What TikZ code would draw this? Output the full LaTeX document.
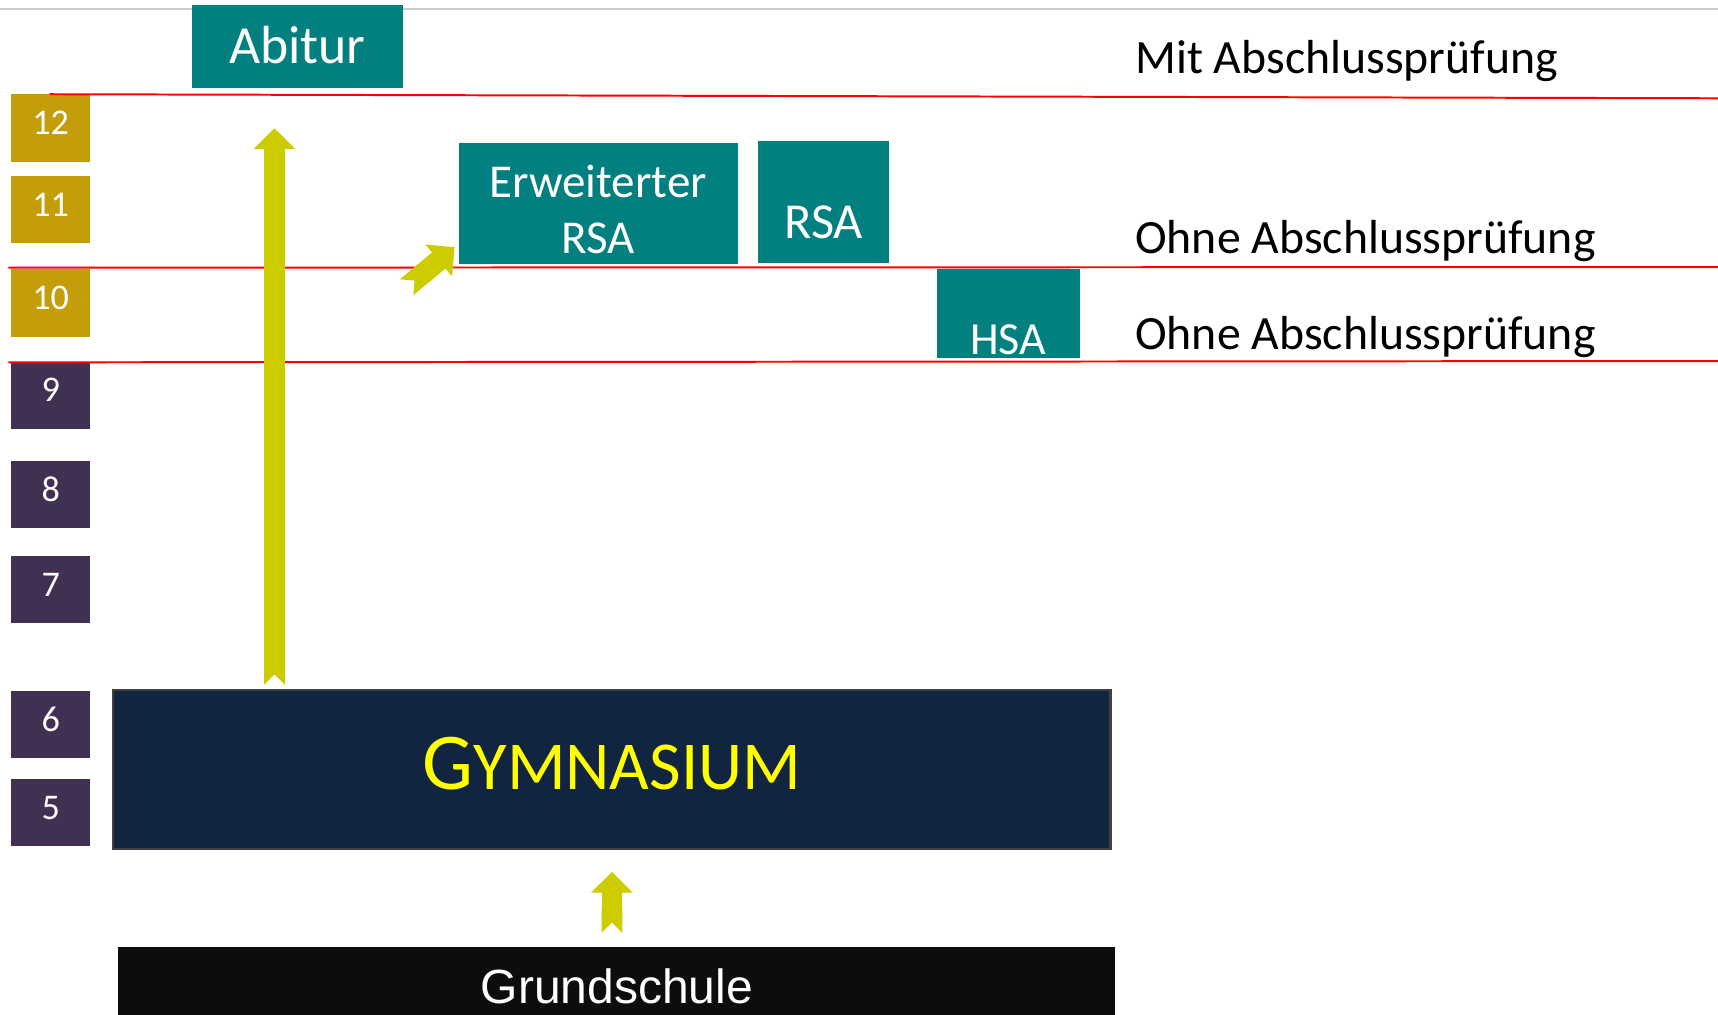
\documentclass[tikz,border=0pt]{standalone}
\usepackage{fontspec}
\setmainfont{Carlito}
\newfontfamily\grundfont{Liberation Sans}
\usetikzlibrary{arrows.meta}

\definecolor{schulteal}{RGB}{2,128,128}
\definecolor{oberstufe}{RGB}{196,158,10}
\definecolor{unterstufe}{RGB}{64,49,82}
\definecolor{gymblau}{RGB}{18,37,64}
\definecolor{pfeilgelb}{RGB}{204,204,0}
\definecolor{titelgelb}{RGB}{255,255,0}

\tikzset{
  abschluss/.style={fill=schulteal, text=white, inner sep=0pt, anchor=base},
  klasse/.style={fill=#1, text=white, inner sep=0pt, anchor=base, minimum width=36.25pt,
    text height=18.3pt, text depth=12.45pt, font=\fontsize{16.5}{18}\selectfont},
  grenze/.style={draw=red, line width=0.9pt},
  pfeil/.style={draw=pfeilgelb, line width=9.5pt,
    {Triangle Cap[reversed]}-{Triangle[width=18.5pt,length=9.5pt]}},
  hinweis/.style={anchor=base west, inner sep=0pt, font=\fontsize{21.8}{25}\selectfont},
}

\begin{document}
\begin{tikzpicture}[x=0.5pt,y=0.5pt,yscale=-1]
\useasboundingbox (0,0) rectangle (1568,925.5);

% Linie oben
\draw[gray!40, line width=1pt] (0,8.5) -- (1568,8.5);

% Klassenstufen
\foreach \nr/\ypos/\farbe in {12/122.6/oberstufe, 11/197.2/oberstufe, 10/282.4/oberstufe,
    9/366.6/unterstufe, 8/457.4/unterstufe, 7/544.1/unterstufe, 6/667.3/unterstufe, 5/747.6/unterstufe}
  \node[klasse=\farbe] (k\nr) at (46.25,\ypos) {\nr};

% Abschluesse
\node[abschluss, minimum width=96.5pt, text height=26.7pt, text depth=10.8pt,
  font=\fontsize{24.5}{28}\selectfont] (abitur) at (271.5,58.4) {Abitur};
\node[abschluss, minimum width=127.35pt, align=center, text height=50.4pt, text depth=5.1pt,
  font=\fontsize{21.5}{25.5}\selectfont] (erw) at (545.9,231) {Erweiterter\\RSA};
\node[abschluss, minimum width=59.5pt, text height=44.25pt, text depth=11.4pt,
  font=\fontsize{23}{26}\selectfont] (rsa) at (751.7,217.5) {RSA};
\node[abschluss, minimum width=65.4pt, text height=38.8pt, text depth=1.5pt,
  font=\fontsize{21}{24}\selectfont] (hsa) at (920.2,323.4) {HSA};

% Schulformen
\node[fill=gymblau, draw=black!75, line width=1pt, inner sep=0pt, anchor=base, minimum width=455pt,
  text height=45.6pt, text depth=26.95pt, text=titelgelb] (gym) at (558.5,721)
  {{\fontsize{36.8}{40}\selectfont G}{\fontsize{31.3}{34}\selectfont YMNASIUM}};
\node[fill=black!95, text=white, inner sep=0pt, anchor=base, minimum width=455pt,
  text height=25.9pt, text depth=12pt, font=\grundfont\fontsize{21.9}{24}\selectfont] (grund)
  at (563,915.8) {Grundschule};

% Pruefungen
\node[hinweis] (mit) at (1035.7,67.5) {Mit Abschlussprüfung};
\node[hinweis] (ohne1) at (1035.7,231.8) {Ohne Abschlussprüfung};
\node[hinweis] (ohne2) at (1035.7,318.8) {Ohne Abschlussprüfung};

% Grenzlinien
\draw[grenze] (45.4,86) -- (1568,89.7);
\draw[grenze] (7.7,244.3) -- (1568,243.7);
\draw[grenze] (7.7,330.7) -- (1568,329.5);

% Pfeile
\coordinate (abi-ziel) at (250.5,117);
\coordinate (erw-start) at (371.1,262.2);
\draw[pfeil] ([yshift=-1.9pt]gym.north -| abi-ziel) -- (abi-ziel);
\draw[pfeil] (erw-start) -- ([xshift=-1.6pt,yshift=-8pt]erw.south west);
\draw[pfeil] ([yshift=-6.1pt]grund.north -| gym.south) -- ([yshift=9.9pt]gym.south);

\end{tikzpicture}
\end{document}
